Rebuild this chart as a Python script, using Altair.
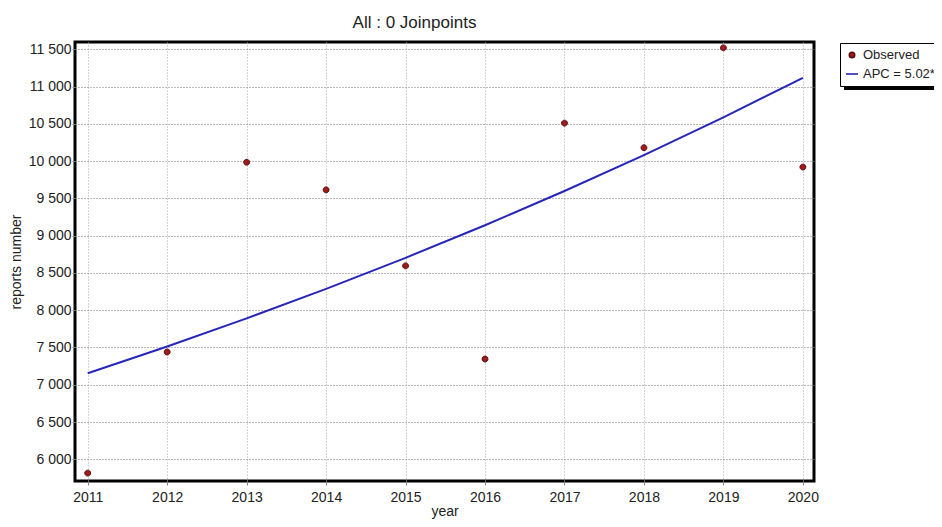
import altair as alt
import pandas as pd

years = [2011, 2012, 2013, 2014, 2015, 2016, 2017, 2018, 2019, 2020]
observed = [5815, 7440, 9985, 9615, 8595, 7345, 10510, 10180, 11520, 9920]
fitted = [7155, 7514, 7891, 8287, 8703, 9140, 9599, 10081, 10587, 11118]
series_names = ["Observed", "APC = 5.02*"]
y_ticks = [6000, 6500, 7000, 7500, 8000, 8500, 9000, 9500, 10000, 10500, 11000, 11500]

FONT = "Liberation Sans"
TXT = "#222222"
DOT_PATH = "M-0.45,0A0.45,0.45,0,1,1,0.45,0A0.45,0.45,0,1,1,-0.45,0Z"

obs_df = pd.DataFrame({"year": years, "value": observed, "series": series_names[0]})
fit_df = pd.DataFrame({"year": years, "value": fitted})

xscale = alt.Scale(domain=[2010.84, 2020.14], nice=False, zero=False)
yscale = alt.Scale(domain=[5709, 11598], nice=False, zero=False)

xaxis = alt.Axis(values=years, format="d", title="year", grid=True,
                 gridColor="#aaaaaa", gridDash=[1, 2], domain=False,
                 tickSize=4, tickColor="#888888", labelPadding=5,
                 titleBaseline="alphabetic", titleY=34,
                 labelFontSize=14, titleFontSize=14, labelColor=TXT, titleColor=TXT,
                 labelFont=FONT, titleFont=FONT, titleFontWeight="normal")
yaxis = alt.Axis(values=y_ticks, title="reports number", grid=True,
                 gridColor="#777777", gridDash=[1, 2], domain=False,
                 labelExpr="replace(format(datum.value, ','), ',', ' ')",
                 tickSize=3, tickColor="#888888", labelPadding=1, titlePadding=5,
                 labelFontSize=14, titleFontSize=14, labelColor=TXT, titleColor=TXT,
                 labelFont=FONT, titleFont=FONT, titleFontWeight="normal")

shadow = alt.Chart(pd.DataFrame({"k": [0]})).mark_rect(color="black").encode(
    x=alt.value(769), x2=alt.value(880), y=alt.value(6), y2=alt.value(48)
)

line = alt.Chart(fit_df).mark_line(color="#2626b8", strokeWidth=2).encode(
    x=alt.X("year:Q", scale=xscale, axis=xaxis),
    y=alt.Y("value:Q", scale=yscale, axis=yaxis),
)

legend = alt.Legend(title=None, orient="none", legendX=765, legendY=1,
                    fillColor="white", strokeColor="black", padding=5,
                    symbolSize=144, symbolStrokeWidth=1.6, labelOffset=4,
                    labelFontSize=13, labelFont=FONT, labelColor=TXT,
                    rowPadding=5)

points = alt.Chart(obs_df).mark_point(filled=True, size=170, opacity=1, strokeWidth=1).encode(
    x=alt.X("year:Q", scale=xscale, axis=xaxis),
    y=alt.Y("value:Q", scale=yscale, axis=yaxis),
    fill=alt.Fill("series:N", scale=alt.Scale(domain=series_names, range=["#a01c1c", "#2626b8"]), legend=legend),
    stroke=alt.Stroke("series:N", scale=alt.Scale(domain=series_names, range=["#5a0e0e", "#2626b8"]), legend=legend),
    shape=alt.Shape("series:N", scale=alt.Scale(domain=series_names, range=[DOT_PATH, "stroke"]), legend=legend),
)

chart = alt.layer(shadow, line, points).properties(
    width=739, height=439,
    title=alt.TitleParams("All : 0 Joinpoints", font=FONT, fontSize=17, fontWeight="normal",
                          color=TXT, anchor="middle", dx=-30, offset=10),
    autosize=alt.AutoSizeParams(type="none"),
    padding={"left": 67, "top": 34, "right": 120, "bottom": 38},
).configure_view(stroke="black", strokeWidth=3)

chart.save("out.html", embed_options={"renderer": "svg", "actions": False})
